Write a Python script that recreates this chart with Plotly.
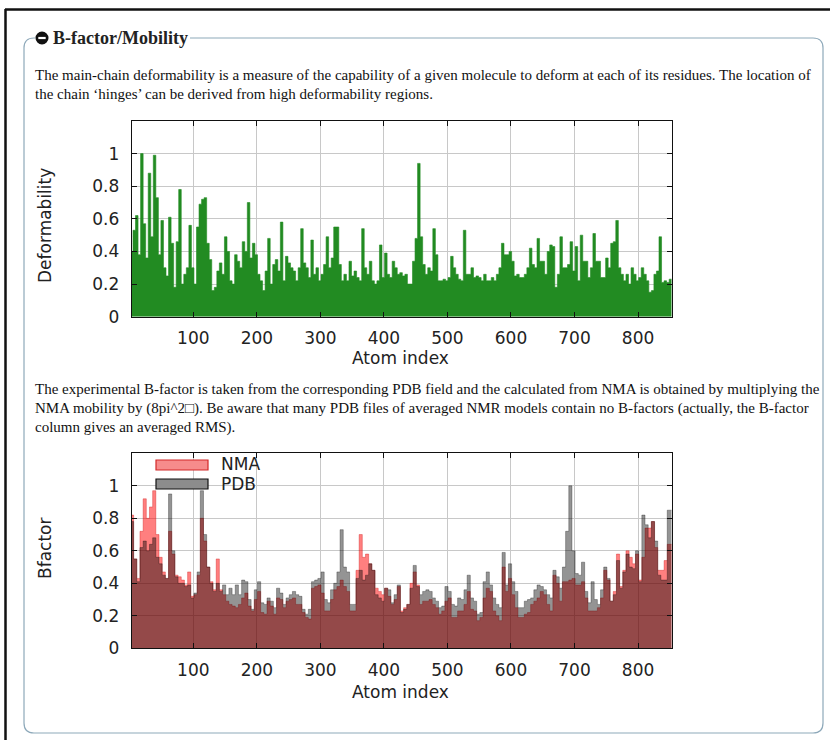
import plotly.graph_objects as go

W, H = 830, 740

# ---------------- data ----------------
# Deformability, one value per 4-atom block (block starts at atom 1, 5, 9, ...)
DEF_STEP = 4
deformability = [
    0.40, 0.53, 0.62, 0.38, 1.00, 0.57, 0.36, 0.88, 0.49, 0.99,
    0.73, 0.38, 0.59, 0.30, 0.25, 0.61, 0.45, 0.18, 0.46, 0.78,
    0.20, 0.26, 0.30, 0.56, 0.30, 0.20, 0.55, 0.69, 0.72, 0.73,
    0.45, 0.35, 0.16, 0.18, 0.28, 0.33, 0.26, 0.49, 0.40, 0.22,
    0.20, 0.38, 0.34, 0.30, 0.46, 0.40, 0.70, 0.36, 0.45, 0.38,
    0.26, 0.22, 0.16, 0.28, 0.48, 0.20, 0.32, 0.35, 0.28, 0.58,
    0.22, 0.37, 0.33, 0.30, 0.28, 0.22, 0.30, 0.54, 0.33, 0.30,
    0.24, 0.47, 0.26, 0.30, 0.22, 0.26, 0.32, 0.49, 0.30, 0.36,
    0.55, 0.55, 0.32, 0.22, 0.26, 0.22, 0.34, 0.25, 0.28, 0.24,
    0.22, 0.54, 0.30, 0.26, 0.34, 0.22, 0.20, 0.22, 0.44, 0.24,
    0.39, 0.26, 0.24, 0.34, 0.30, 0.26, 0.27, 0.25, 0.26, 0.20,
    0.20, 0.34, 0.48, 0.94, 0.49, 0.32, 0.26, 0.30, 0.28, 0.54,
    0.38, 0.22, 0.22, 0.23, 0.22, 0.24, 0.37, 0.30, 0.26, 0.23,
    0.22, 0.53, 0.26, 0.26, 0.30, 0.24, 0.25, 0.24, 0.22, 0.26,
    0.22, 0.22, 0.24, 0.22, 0.26, 0.30, 0.45, 0.38, 0.38, 0.40,
    0.34, 0.25, 0.26, 0.24, 0.24, 0.26, 0.30, 0.42, 0.32, 0.30,
    0.48, 0.34, 0.34, 0.26, 0.40, 0.44, 0.43, 0.18, 0.26, 0.49,
    0.30, 0.30, 0.32, 0.46, 0.28, 0.43, 0.22, 0.50, 0.34, 0.34,
    0.24, 0.30, 0.51, 0.34, 0.34, 0.24, 0.24, 0.36, 0.30, 0.45,
    0.46, 0.59, 0.30, 0.26, 0.22, 0.26, 0.20, 0.30, 0.26, 0.22,
    0.24, 0.30, 0.26, 0.22, 0.15, 0.16, 0.26, 0.28, 0.49, 0.21,
    0.22, 0.21, 0.23,
]

# B-factors, one value per 5-atom block (block starts at atom 1, 6, 11, ...)
BF_STEP = 5
bfactor_nma = [
    0.82, 0.55, 0.43, 0.72, 0.92, 0.80, 0.87, 0.97, 0.70, 0.56,
    0.47, 0.43, 0.72, 0.58, 0.45, 0.44, 0.42, 0.39, 0.47, 0.32,
    0.33, 0.45, 0.80, 0.66, 0.50, 0.41, 0.36, 0.55, 0.36, 0.33,
    0.29, 0.27, 0.26, 0.25, 0.27, 0.31, 0.34, 0.26, 0.23, 0.30,
    0.35, 0.22, 0.21, 0.29, 0.26, 0.21, 0.31, 0.30, 0.25, 0.29,
    0.30, 0.31, 0.27, 0.27, 0.22, 0.19, 0.18, 0.37, 0.38, 0.39,
    0.34, 0.23, 0.23, 0.30, 0.36, 0.38, 0.42, 0.38, 0.35, 0.23,
    0.23, 0.48, 0.70, 0.56, 0.58, 0.52, 0.48, 0.37, 0.35, 0.33,
    0.37, 0.32, 0.27, 0.30, 0.38, 0.23, 0.25, 0.27, 0.40, 0.47,
    0.39, 0.27, 0.29, 0.29, 0.30, 0.27, 0.25, 0.21, 0.23, 0.29,
    0.31, 0.19, 0.19, 0.23, 0.23, 0.27, 0.35, 0.24, 0.23, 0.17,
    0.19, 0.31, 0.37, 0.35, 0.23, 0.20, 0.17, 0.50, 0.35, 0.43,
    0.33, 0.25, 0.19, 0.19, 0.21, 0.22, 0.27, 0.29, 0.31, 0.35,
    0.33, 0.27, 0.23, 0.45, 0.40, 0.29, 0.41, 0.41, 0.42, 0.43,
    0.39, 0.39, 0.41, 0.31, 0.23, 0.23, 0.23, 0.25, 0.31, 0.48,
    0.42, 0.29, 0.35, 0.58, 0.38, 0.48, 0.60, 0.56, 0.52, 0.58,
    0.42, 0.56, 0.74, 0.74, 0.78, 0.62, 0.48, 0.48, 0.54, 0.64,
]
bfactor_pdb = [
    0.78, 0.55, 0.41, 0.62, 0.66, 0.60, 0.64, 0.68, 0.56, 0.52,
    0.45, 0.43, 0.95, 0.60, 0.44, 0.40, 0.40, 0.38, 0.39, 0.31,
    0.34, 0.47, 0.97, 0.70, 0.50, 0.40, 0.35, 0.40, 0.35, 0.39,
    0.33, 0.37, 0.33, 0.39, 0.33, 0.42, 0.41, 0.30, 0.24, 0.36,
    0.41, 0.28, 0.27, 0.31, 0.29, 0.25, 0.37, 0.34, 0.27, 0.31,
    0.33, 0.35, 0.33, 0.32, 0.24, 0.21, 0.24, 0.41, 0.42, 0.43,
    0.47, 0.30, 0.28, 0.36, 0.40, 0.47, 0.73, 0.50, 0.47, 0.27,
    0.27, 0.43, 0.48, 0.42, 0.45, 0.52, 0.48, 0.33, 0.31, 0.29,
    0.37, 0.36, 0.28, 0.33, 0.39, 0.22, 0.24, 0.27, 0.37, 0.51,
    0.38, 0.33, 0.35, 0.36, 0.35, 0.31, 0.29, 0.25, 0.26, 0.38,
    0.35, 0.27, 0.26, 0.31, 0.30, 0.36, 0.45, 0.31, 0.29, 0.21,
    0.22, 0.41, 0.47, 0.39, 0.31, 0.27, 0.25, 0.59, 0.39, 0.52,
    0.41, 0.35, 0.25, 0.25, 0.29, 0.30, 0.31, 0.36, 0.39, 0.38,
    0.36, 0.33, 0.31, 0.48, 0.44, 0.37, 0.50, 0.72, 1.00, 0.60,
    0.46, 0.45, 0.53, 0.35, 0.28, 0.41, 0.30, 0.27, 0.36, 0.50,
    0.43, 0.29, 0.33, 0.54, 0.37, 0.47, 0.58, 0.50, 0.49, 0.60,
    0.41, 0.82, 0.76, 0.68, 0.78, 0.66, 0.45, 0.42, 0.42, 0.85,
]

x_tick_vals = [100, 200, 300, 400, 500, 600, 700, 800]
y_tick_vals = [0, 0.2, 0.4, 0.6, 0.8, 1.0]
y_tick_text = ["0", "0.2", "0.4", "0.6", "0.8", "1"]
X_RANGE = [3, 853]
Y_RANGE = [0, 1.2]

series_names = ["NMA", "PDB"]

para1 = ["The main-chain deformability is a measure of the capability of a given molecule to deform at each of its residues. The location of",
         "the chain \u2018hinges\u2019 can be derived from high deformability regions."]
para2 = ["The experimental B-factor is taken from the corresponding PDB field and the calculated from NMA is obtained by multiplying the",
         "NMA mobility by (8pi^2\u25a1). Be aware that many PDB files of averaged NMR models contain no B-factors (actually, the B-factor",
         "column gives an averaged RMS)."]


# ---------------- helpers ----------------
def px(x):
    return x / W


def py(y):
    return 1 - y / H


def steps(vals, step):
    xs = [1 + step * i for i in range(len(vals))] + [X_RANGE[1]]
    ys = list(vals) + [vals[-1]]
    return xs, ys


GREEN = "rgb(34,139,34)"
SANS = "DejaVu Sans"
SERIF = "Liberation Serif"

fig = go.Figure()

dx, dy = steps(deformability, DEF_STEP)
fig.add_trace(go.Scatter(x=dx, y=dy, mode="lines", line=dict(shape="hv", width=0.6, color=GREEN),
                         fill="tozeroy", fillcolor=GREEN, xaxis="x", yaxis="y", showlegend=False,
                         hoverinfo="skip"))

nx, ny = steps(bfactor_nma, BF_STEP)
fig.add_trace(go.Scatter(x=nx, y=ny, mode="lines", name=series_names[0],
                         line=dict(shape="hv", width=0.6, color="rgba(200,0,0,0.55)"),
                         fill="tozeroy", fillcolor="rgba(255,0,0,0.5)", xaxis="x2", yaxis="y2",
                         showlegend=False, hoverinfo="skip"))
bx, by = steps(bfactor_pdb, BF_STEP)
fig.add_trace(go.Scatter(x=bx, y=by, mode="lines", name=series_names[1],
                         line=dict(shape="hv", width=0.6, color="rgba(0,0,0,0.5)"),
                         fill="tozeroy", fillcolor="rgba(0,0,0,0.42)", xaxis="x2", yaxis="y2",
                         showlegend=False, hoverinfo="skip"))

PL, PR = 131.7, 671.7
TOP = (121.0, 316.7)
BOT = (453.3, 648.3)

axis_common = dict(showgrid=True, gridcolor="#c8c8c8", gridwidth=1, showline=True, linecolor="#111",
                   linewidth=1, mirror="ticks", ticks="inside", ticklen=5, tickcolor="#111",
                   tickfont=dict(family=SANS, size=17, color="#222"), zeroline=False, fixedrange=True)

fig.update_layout(
    autosize=True, margin=dict(l=0, r=0, t=0, b=0, autoexpand=False),
    paper_bgcolor="white", plot_bgcolor="white",
    xaxis=dict(domain=[px(PL), px(PR)], anchor="y", range=X_RANGE, tickvals=x_tick_vals,
               ticklabelstandoff=6, **axis_common),
    yaxis=dict(domain=[py(TOP[1]), py(TOP[0])], anchor="x", range=Y_RANGE, tickvals=y_tick_vals,
               ticktext=y_tick_text, ticklabelstandoff=8, **axis_common),
    xaxis2=dict(domain=[px(PL), px(PR)], anchor="y2", range=X_RANGE, tickvals=x_tick_vals,
                ticklabelstandoff=6, **axis_common),
    yaxis2=dict(domain=[py(BOT[1]), py(BOT[0])], anchor="x2", range=Y_RANGE, tickvals=y_tick_vals,
                ticktext=y_tick_text, ticklabelstandoff=8, **axis_common),
)

annotations = []
shapes = []


def label(text, x, y, size, family=SANS, angle=0, xanchor="center", color="#222"):
    return dict(text=text, x=px(x), y=py(y), xref="paper", yref="paper", xanchor=xanchor,
                yanchor="middle", showarrow=False, textangle=angle,
                font=dict(family=family, size=size, color=color))


# axis titles
annotations.append(label("Atom index", 400, 358, 17))
annotations.append(label("Atom index", 400, 692, 17))
annotations.append(label("Deformability", 45, 226, 17, angle=-90))
annotations.append(label("Bfactor", 45, 549, 17, angle=-90))

# paragraphs
for i, line in enumerate(para1):
    annotations.append(label(line, 33, 75 + 19 * i, 15, family=SERIF, xanchor="left", color="#111"))
for i, line in enumerate(para2):
    annotations.append(label(line, 33, 389 + 19 * i, 15, family=SERIF, xanchor="left", color="#111"))

# fieldset title
annotations.append(label("<b>B-factor/Mobility</b>", 51, 38, 18, family=SERIF, xanchor="left"))

# legend (custom, inside lower plot)
annotations.append(label(series_names[0], 219, 464, 17, xanchor="left"))
annotations.append(label(series_names[1], 219, 484, 17, xanchor="left"))
shapes.append(dict(type="rect", xref="paper", yref="paper", x0=px(156), x1=px(208), y0=py(460), y1=py(470),
                   fillcolor="rgb(246,140,140)", line=dict(color="rgb(210,40,40)", width=1.2), layer="above"))
shapes.append(dict(type="rect", xref="paper", yref="paper", x0=px(156), x1=px(208), y0=py(479), y1=py(489),
                   fillcolor="rgb(140,140,140)", line=dict(color="#111", width=1.2), layer="above"))

# fieldset border (rounded, open behind the title)
L, R, T, B, r = 24, 823, 38, 733, 10


def P(x, y):
    return f"{px(x):.5f},{py(y):.5f}"


path = (f"M {P(35, T)} L {P(L + r, T)} Q {P(L, T)} {P(L, T + r)} L {P(L, B - r)} "
        f"Q {P(L, B)} {P(L + r, B)} L {P(R - r, B)} Q {P(R, B)} {P(R, B - r)} "
        f"L {P(R, T + r)} Q {P(R, T)} {P(R - r, T)} L {P(190, T)}")
shapes.append(dict(type="path", xref="paper", yref="paper", path=path,
                   line=dict(color="#8ea9ba", width=1.2), layer="below"))

# title icon (circle with minus)
shapes.append(dict(type="circle", xref="paper", yref="paper", x0=px(35.5), x1=px(48.5), y0=py(31.5), y1=py(44.5),
                   fillcolor="#111", line=dict(color="#111", width=0), layer="above"))
shapes.append(dict(type="line", xref="paper", yref="paper", x0=px(38.3), x1=px(45.7), y0=py(38), y1=py(38),
                   line=dict(color="white", width=2.2), layer="above"))

# outer page frame (top and left edges)
shapes.append(dict(type="line", xref="paper", yref="paper", x0=px(5), x1=px(830), y0=py(9.5), y1=py(9.5),
                   line=dict(color="#111", width=2.5)))
shapes.append(dict(type="line", xref="paper", yref="paper", x0=px(5.5), x1=px(5.5), y0=py(9), y1=py(740),
                   line=dict(color="#111", width=2.5)))

fig.update_layout(annotations=annotations, shapes=shapes)

fig.write_html("out.html", config={"displayModeBar": False, "responsive": True},
               default_width="100vw", default_height="100vh",
               post_script=("document.documentElement.style.margin='0';"
                            "document.body.style.margin='0';document.body.style.overflow='hidden';"
                            "var gd=document.getElementById('{plot_id}');"
                            "gd.style.position='fixed';gd.style.left='0';gd.style.top='0';"
                            "Plotly.Plots.resize(gd);"))
